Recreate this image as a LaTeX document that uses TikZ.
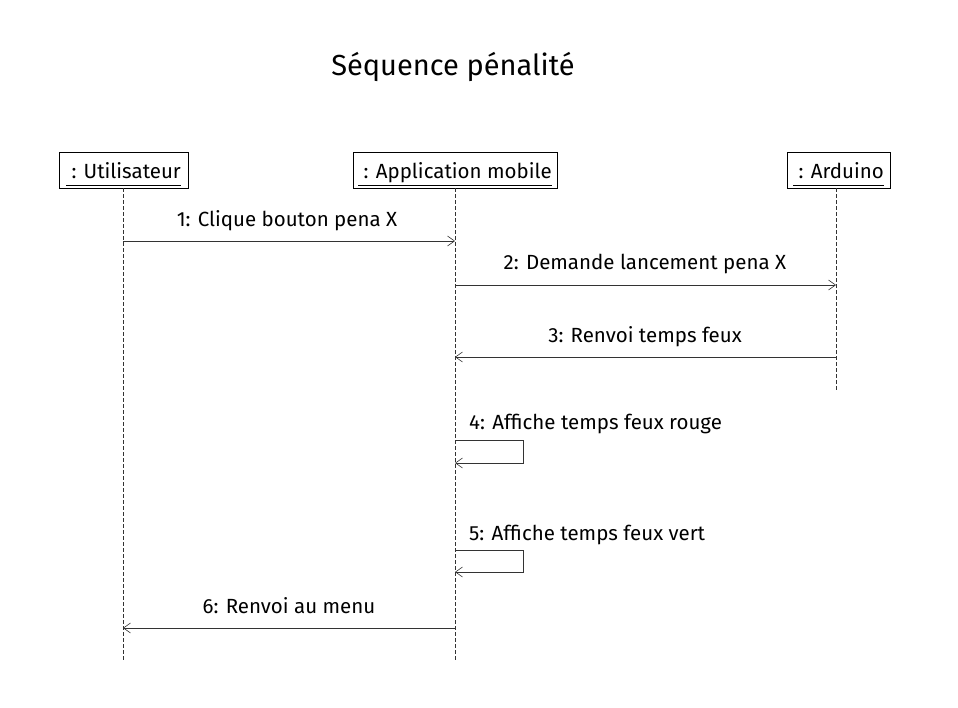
\documentclass[tikz,border=0pt]{standalone}
\usepackage{fontspec}
\setmainfont{Fira Sans}
\usetikzlibrary{arrows.meta}
\newcommand{\objname}[1]{\underline{#1\vphantom{pg}}}
\begin{document}
\begin{tikzpicture}[x=1pt,y=-1pt,
  obj/.style={draw=black,line width=0.8pt,fill=white,minimum height=36pt,inner xsep=5pt,text height=20pt,text depth=2pt,font=\fontsize{20.5}{24}\selectfont,anchor=center},
  life/.style={draw=black!80,dash pattern=on 4pt off 2pt,line width=0.7pt},
  msg/.style={draw=black!80,line width=0.8pt,-{Straight Barb[length=7pt,width=10pt,line width=0.6pt]}},
  lbl/.style={font=\fontsize{20.5}{24}\selectfont,inner sep=0pt}]
\useasboundingbox (0,0) rectangle (958,708);
\node[font=\fontsize{29}{34}\selectfont,inner sep=0pt] (title) at (453,67) {Séquence pénalité};
\node[obj,minimum width=129pt] (u) at (123.5,170) {\objname{ : Utilisateur}};
\node[obj,minimum width=204pt] (a) at (455,170) {\objname{ : Application mobile}};
\node[obj,minimum width=103pt] (d) at (838.5,170) {\objname{ : Arduino}};
\coordinate (uend) at (123,662);
\coordinate (aend) at (455,662);
\coordinate (dend) at (836,390);
\draw[life] (u.south -| uend) -- (uend);
\draw[life] (a.south -| aend) -- (aend);
\draw[life] (d.south -| dend) -- (dend);
% messages
\coordinate (m1s) at (123,241); \coordinate (m1e) at (455,241);
\draw[msg] (m1s) -- (m1e);
\node[lbl] (l1) at (287,221) {1: Clique bouton pena X};
\coordinate (m2s) at (455,285); \coordinate (m2e) at (836,285);
\draw[msg] (m2s) -- (m2e);
\node[lbl] (l2) at (645,264) {2: Demande lancement pena X};
\coordinate (m3s) at (836,357); \coordinate (m3e) at (455,357);
\draw[msg] (m3s) -- (m3e);
\node[lbl] (l3) at (645,337) {3: Renvoi temps feux};
\coordinate (m4s) at (455,440); \coordinate (m4e) at (455,463);
\draw[msg] (m4s) -- (523,440) -- (523,463) -- (m4e);
\node[lbl,anchor=west] (l4) at (469,424) {4: Affiche temps feux rouge};
\coordinate (m5s) at (455,550); \coordinate (m5e) at (455,572);
\draw[msg] (m5s) -- (523,550) -- (523,572) -- (m5e);
\node[lbl,anchor=west] (l5) at (469,535) {5: Affiche temps feux vert};
\coordinate (m6s) at (455,628); \coordinate (m6e) at (123,628);
\draw[msg] (m6s) -- (m6e);
\node[lbl] (l6) at (289,606) {6: Renvoi au menu};
\end{tikzpicture}
\end{document}
